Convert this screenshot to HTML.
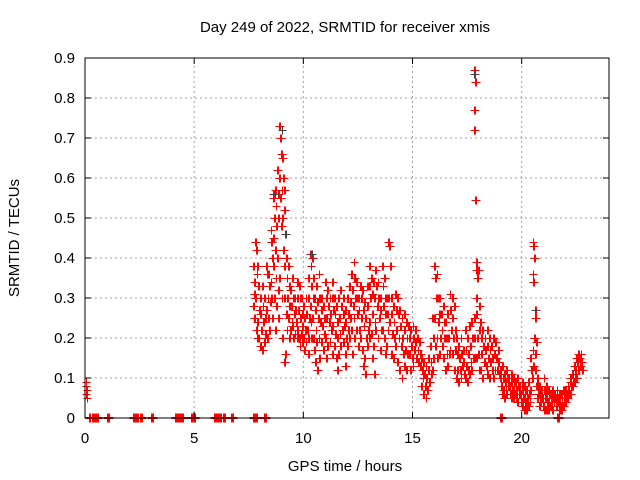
<!DOCTYPE html>
<html><head><meta charset="utf-8"><style>
html,body{margin:0;padding:0;background:#fff}
svg{display:block}
text{font-family:"Liberation Sans",sans-serif;fill:#000}
</style></head><body>
<svg id="chart" width="640" height="480" viewBox="0 0 640 480" xmlns="http://www.w3.org/2000/svg">
<rect width="640" height="480" fill="#fff"/>
<g id="grid"></g>
<g id="marks"></g>
<rect x="85" y="58" width="524" height="360" fill="none" stroke="#000" stroke-width="1"/>
<g id="ticks"></g>
<text x="345" y="32" font-size="15" text-anchor="middle">Day 249 of 2022, SRMTID for receiver xmis</text>
<text x="345" y="471" font-size="15" text-anchor="middle">GPS time / hours</text>
<text transform="translate(19,238) rotate(-90)" font-size="15" text-anchor="middle">SRMTID / TECUs</text>
</svg>
<script>
const xTicks=[0,5,10,15,20];
const yTicks=[0,0.1,0.2,0.3,0.4,0.5,0.6,0.7,0.8,0.9];
const yTickLabels=["0","0.1","0.2","0.3","0.4","0.5","0.6","0.7","0.8","0.9"];
const zeroTimes=[0.2,0.3,0.4,0.5,1.0,2.2,2.3,2.4,2.5,3.0,4.1,4.2,4.3,4.4,4.85,4.95,5.9,6.0,6.1,6.2,6.3,6.7,7.7,7.8,8.2,19.0,21.6];
const earlyTimes=[0.05,0.05,0.05,0.1,0.1];
const earlyValues=[0.09,0.08,0.06,0.07,0.05];
const clusterTimes=[7.7,7.8,7.9,8.0,8.1,8.2,8.3,8.4,8.5,8.6,8.7,8.8,8.9,9.0,9.1,9.2,9.3,9.4,9.5,9.6,9.7,9.8,9.9,10.0,10.1,10.2,10.3,10.4,10.5,10.6,10.7,10.8,10.9,11.0,11.1,11.2,11.3,11.4,11.5,11.6,11.7,11.8,11.9,12.0,12.1,12.2,12.3,12.4,12.5,12.6,12.7,12.8,12.9,13.0,13.1,13.2,13.3,13.4,13.5,13.6,13.7,13.8,13.9,14.0,14.1,14.2,14.3,14.4,14.5,14.6,14.7,14.8,14.9,15.0,15.1,15.2,15.3,15.4,15.5,15.6,15.7,15.8,15.9,16.0,16.1,16.2,16.3,16.4,16.5,16.6,16.7,16.8,16.9,17.0,17.1,17.2,17.3,17.4,17.5,17.6,17.7,17.8,17.9,18.0,18.1,18.2,18.3,18.4,18.5,18.6,18.7,18.8,18.9,19.0,19.1,19.2,19.3,19.4,19.5,19.6,19.7,19.8,19.9,20.0,20.1,20.2,20.3,20.4,20.5,20.6,20.7,20.8,20.9,21.0,21.1,21.2,21.3,21.4,21.5,21.6,21.7,21.8,21.9,22.0,22.1,22.2,22.3,22.4,22.5,22.6,22.7];
const clusterValues=[
[.38,.34,.31,.28,.25],[.44,.42,.36,.3,.22,.2],[.38,.33,.27,.24,.2],[.3,.26,.22,.18],[.33,.28,.24,.17],[.3,.25,.21,.19],[.38,.36,.3,.27,.2],[.36,.33,.29,.25,.22],[.47,.44,.4,.34,.3,.25],[.56,.55,.5,.45,.38,.3],
[.57,.53,.48,.42,.35,.28,.22],[.62,.56,.5,.4,.32,.25],[.73,.7,.66,.6,.55,.48,.35],[.72,.65,.6,.57,.5,.42,.3,.2],[.57,.52,.46,.38,.3,.16,.14],[.4,.35,.3,.26,.22],[.38,.33,.28,.25,.2],[.32,.28,.24,.22],[.35,.3,.26,.23,.2],[.3,.27,.24,.21],
[.34,.3,.27,.22,.2],[.33,.3,.25,.2,.18],[.3,.26,.23,.21,.19],[.28,.25,.22,.2,.17],[.3,.26,.22,.19],[.35,.3,.25,.2,.16],[.41,.38,.33,.28,.24,.2],[.4,.35,.3,.25,.2],[.3,.27,.22,.17,.14],[.33,.29,.25,.19,.12],
[.36,.3,.24,.2,.15],[.3,.27,.23,.19],[.28,.25,.21,.17],[.34,.3,.25,.2,.15],[.32,.28,.24,.18],[.3,.26,.22,.19],[.34,.3,.27,.23,.16],[.3,.26,.21,.18],[.28,.24,.2,.15,.12],[.3,.25,.21,.16],
[.32,.28,.22,.18],[.3,.26,.23,.19],[.27,.24,.2,.16,.13],[.3,.26,.22,.18],[.33,.29,.25,.2],[.36,.32,.28,.22,.16],[.39,.35,.3,.25,.2],[.34,.3,.26,.22],[.3,.27,.22,.18],[.33,.3,.25,.2],
[.32,.27,.23,.17,.13],[.29,.25,.2,.15,.11],[.33,.28,.22,.18],[.38,.33,.3,.24,.2],[.35,.31,.26,.21,.15],[.34,.3,.24,.18,.11],[.37,.33,.28,.22],[.34,.3,.25,.2],[.3,.27,.22,.17],[.38,.33,.28,.22],
[.35,.3,.26,.2,.16],[.3,.26,.22,.18],[.44,.43,.38,.3,.24],[.3,.26,.21,.16],[.28,.24,.2,.15],[.31,.27,.22,.18],[.3,.26,.2,.14],[.27,.23,.18,.12],[.25,.2,.16,.1],[.26,.22,.17,.13],
[.24,.2,.16,.12],[.23,.2,.16],[.22,.18,.15,.12],[.23,.2,.17,.13],[.22,.19,.15],[.2,.17,.14],[.19,.16,.13],[.15,.12,.1,.08],[.14,.11,.08,.06],[.13,.1,.07,.05],
[.15,.12,.09],[.18,.14,.11],[.25,.2,.15,.12],[.38,.35,.3,.25,.18],[.36,.3,.24,.2,.15],[.3,.26,.2,.16],[.26,.22,.18],[.28,.24,.2,.15],[.24,.2,.16,.12],[.26,.2,.16,.13],
[.31,.27,.22,.17],[.3,.25,.2,.16],[.28,.22,.17,.12],[.2,.16,.12,.1],[.18,.15,.12,.09],[.2,.16,.13,.1],[.17,.14,.11],[.22,.17,.13,.1],[.2,.16,.12,.09],[.23,.18,.14,.11],
[.24,.2,.15,.12],[.87,.86,.84,.77,.72,.545,.25,.2,.15],[.39,.37,.35,.3,.26,.2,.15],[.37,.28,.22,.16,.12],[.24,.2,.16,.12],[.22,.18,.14,.1],[.2,.17,.13],[.22,.18,.15,.11],[.2,.17,.14,.1],[.18,.15,.12],
[.2,.16,.12,.1],[.19,.15,.12],[.17,.14,.11],[.12,.1,.08],[.13,.1,.07,.06],[.11,.09,.07,.05],[.12,.1,.08,.06],[.1,.08,.06],[.11,.09,.07,.05],[.1,.08,.06,.05],
[.09,.07,.05],[.1,.08,.06,.04],[.08,.06,.04],[.09,.07,.05,.03],[.08,.06,.04,.02],[.07,.05,.03,.02],[.09,.06,.04,.03],[.15,.12,.1,.07],[.44,.43,.4,.36,.34,.2,.17,.13],[.27,.25,.19,.16,.12,.08],
[.1,.08,.06,.05],[.08,.06,.04,.03],[.07,.05,.03],[.1,.07,.05,.03,.02],[.08,.06,.04,.02],[.07,.05,.03,.02],[.06,.05,.04,.03],[.07,.05,.04,.02],[.06,.05,.03],[.07,.05,.04,.03],
[.06,.04,.03,.02],[.06,.05,.03,.02],[.07,.05,.04,.03],[.07,.06,.05,.04],[.08,.07,.06,.05],[.1,.09,.08,.06],[.11,.1,.09,.08],[.13,.12,.11,.09],[.15,.14,.12,.1],[.16,.15,.13,.12],
[.16,.14,.12]];
const grayTimes=[8.7,9.0,9.2,10.4,17.8,20.6];
const grayValues=[0.56,0.72,0.46,0.41,0.86,0.27];

const X0=85,X1=609,Y0=418,Y1=58,XMAX=24,YMAX=0.9;
function sx(t){return X0+(X1-X0)*t/XMAX;}
function sy(v){return Y0-(Y0-Y1)*v/YMAX;}
const NS="http://www.w3.org/2000/svg";
function mk(tag,attrs,parent){const e=document.createElementNS(NS,tag);for(const k in attrs)e.setAttribute(k,attrs[k]);parent.appendChild(e);return e;}
const grid=document.getElementById('grid'),ticks=document.getElementById('ticks'),marks=document.getElementById('marks');
xTicks.forEach(t=>{const x=sx(t);
 if(t>0){const g=mk('line',{x1:x,x2:x,y1:Y0,y2:Y1,stroke:'#a0a0a0','stroke-dasharray':'2,3'},grid);
 
 }
 mk('line',{x1:x,x2:x,y1:Y0,y2:Y0-6,stroke:'#000'},ticks);
 mk('line',{x1:x,x2:x,y1:Y1,y2:Y1+6,stroke:'#000'},ticks);
 const l=mk('text',{x:x,y:443,'font-size':15,'text-anchor':'middle'},ticks);l.textContent=t;
 
 
});
yTicks.forEach((v,i)=>{const y=sy(v);
 if(v>0&&v<YMAX){const g=mk('line',{x1:X0,x2:X1,y1:y,y2:y,stroke:'#a0a0a0','stroke-dasharray':'2,3'},grid);
 
 }
 mk('line',{x1:X0,x2:X0+6,y1:y,y2:y,stroke:'#000'},ticks);
 mk('line',{x1:X1,x2:X1-6,y1:y,y2:y,stroke:'#000'},ticks);
 const l=mk('text',{x:75,y:y+5,'font-size':15,'text-anchor':'end'},ticks);l.textContent=yTickLabels[i];
 
 
});
function plus(t,v,col){const x=Math.round(sx(t))+0.5,y=Math.round(sy(v))+0.5;
 const p=mk('path',{d:`M${x-4} ${y}H${x+4}M${x} ${y-4}V${y+4}`,stroke:col,'stroke-width':1,fill:'none'},marks);
 
 }
const zeroOffsets=[0,0.05,0.1];
zeroTimes.forEach(t=>zeroOffsets.forEach(o=>{plus(t+o,0,'#ff0000');plus(t+o,0.003,'#ff0000');}));
earlyTimes.forEach((t,i)=>plus(t,earlyValues[i],'#ff0000'));
const clusterOffsets=[0,0.03,0.06];
clusterTimes.forEach((t,i)=>clusterValues[i].forEach((v,j)=>{
 const o=clusterOffsets[j%3];
 plus(t+o,v,'#ff0000');
 plus(t+o+0.04,v,'#ff0000');
}));
grayTimes.forEach((t,i)=>plus(t,grayValues[i],'#404040'));
</script>
</body></html>
